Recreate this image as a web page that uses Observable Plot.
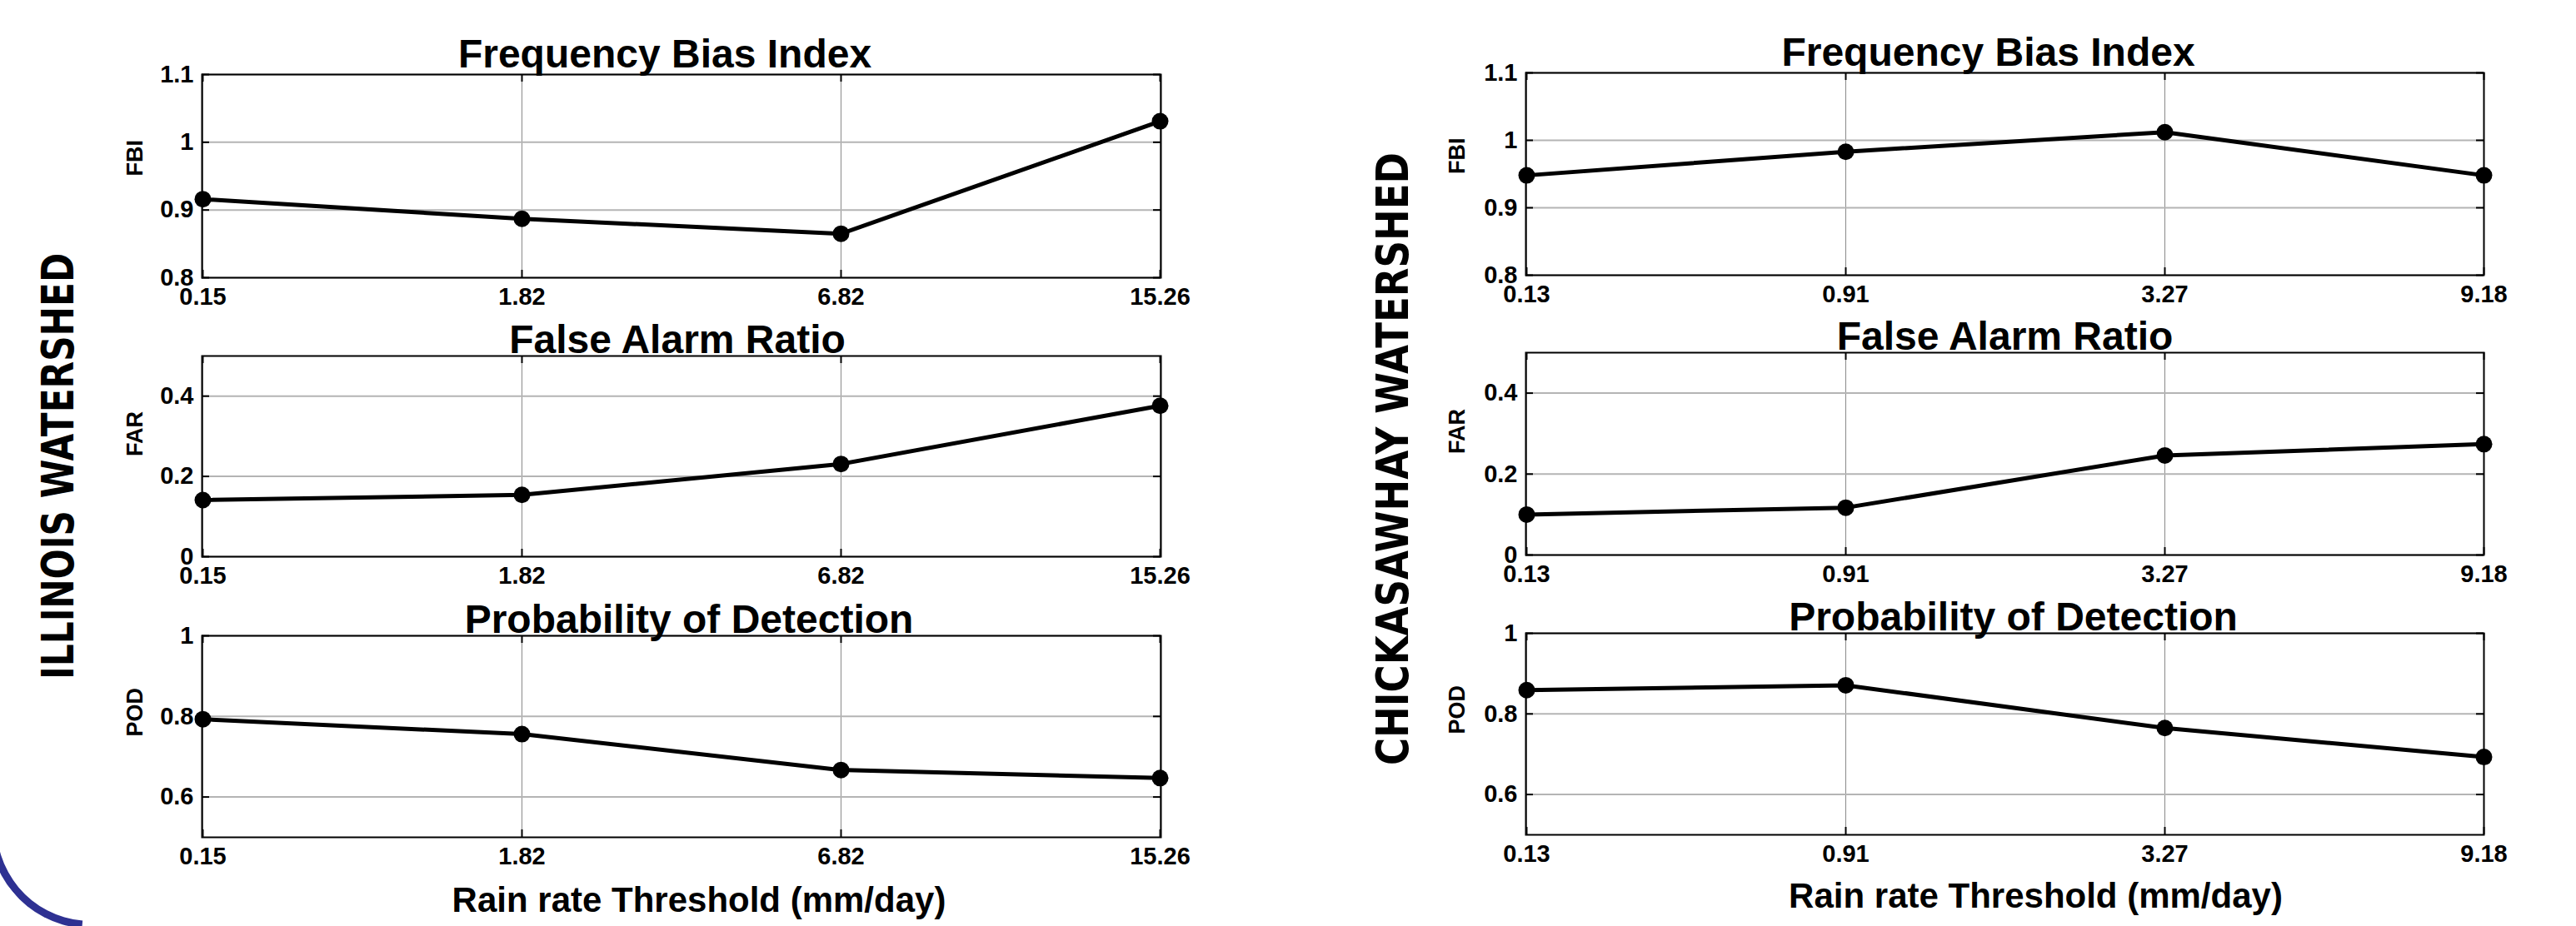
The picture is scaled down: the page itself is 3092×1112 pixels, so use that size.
<!DOCTYPE html>
<html>
<head>
<meta charset="utf-8">
<script src="https://cdn.jsdelivr.net/npm/d3@7"></script>
<script src="https://cdn.jsdelivr.net/npm/@observablehq/plot@0.6"></script>
<style>
  html, body { margin: 0; padding: 0; background: #fff; }
  #root { position: relative; width: 3092px; height: 1112px; overflow: hidden; background: #fff; }
  .panel { position: absolute; }
  #arc {
    position: absolute; box-sizing: border-box;
    left: -13px; top: 871px; width: 244px; height: 244px;
    border: 9px solid transparent; border-left-color: #2e3192;
    border-radius: 50%; transform: rotate(-40deg);
  }
  #side { position: absolute; left: 0; top: 0; pointer-events: none; }
  .panel svg g[aria-label="x-axis tick label"],
  .panel svg g[aria-label="y-axis tick label"] { font-size: 29px; font-weight: bold; }
</style>
</head>
<body>
<div id="root"><div id="arc"></div></div>
<script>
// ---------- data ----------
const illinoisThresholds = ["0.15", "1.82", "6.82", "15.26"];
const chickThresholds = ["0.13", "0.91", "3.27", "9.18"];

const illinoisFBI = [0.916, 0.887, 0.865, 1.031];
const illinoisFAR = [0.141, 0.154, 0.231, 0.376];
const illinoisPOD = [0.793, 0.756, 0.667, 0.647];

const chickFBI = [0.948, 0.983, 1.012, 0.948];
const chickFAR = [0.100, 0.117, 0.246, 0.274];
const chickPOD = [0.859, 0.871, 0.765, 0.693];

const metricTitles = ["Frequency Bias Index", "False Alarm Ratio", "Probability of Detection"];
const metricLabels = ["FBI", "FAR", "POD"];
const fbiDomain = [0.8, 1.1], farDomain = [0, 0.5], podDomain = [0.5, 1];
const fbiTicks = [0.8, 0.9, 1, 1.1];
const farTicks = [0, 0.2, 0.4];
const podTicks = [0.6, 0.8, 1];
const watershedNames = ["ILLINOIS WATERSHED", "CHICKASAWHAY WATERSHED"];
const xAxisTitle = "Rain rate Threshold (mm/day)";

// ---------- layout ----------
const cols = [
  {left: 0, width: 1546, ml: 242, mr: 153, ylabDx: -80, xtDx: 21, xtDy: 89},
  {left: 1546, width: 1546, ml: 285, mr: 111, ylabDx: -82, xtDx: 37, xtDy: 87}
];
const frames = [
  [[89, 333], [427, 668], [763, 1005]],
  [[87, 330], [423, 666], [760, 1002]]
];
const titleDy = [-9, -4, -4];
const titleDx = [[-20, -5, 9], [-20, 0, 10]];

const root = document.getElementById("root");
const FONT = "'Liberation Sans', Arial, Helvetica, sans-serif";

function panel(c, r, xs, vals, domain, ticks) {
  const col = cols[c];
  const [ft, fb] = frames[c][r];
  const mt = 70, mb = r === 2 ? 120 : 60;
  const fh = fb - ft, fw = col.width - col.ml - col.mr;
  const data = xs.map((t, i) => ({t, v: vals[i]}));
  const marks = [
    Plot.ruleX(xs, {stroke: "#8a8a8a", strokeWidth: 1}),
    Plot.ruleY(ticks, {stroke: "#b4b4b4", strokeWidth: 2}),
    Plot.frame({stroke: "black", strokeWidth: 2}),
    Plot.tickY(ticks, {y: d => d, insetRight: fw - 9, stroke: "black", strokeWidth: 2}),
    Plot.tickY(ticks, {y: d => d, insetLeft: fw - 9, stroke: "black", strokeWidth: 2}),
    Plot.tickX(xs, {x: d => d, insetBottom: fh - 9, stroke: "black", strokeWidth: 2}),
    Plot.tickX(xs, {x: d => d, insetTop: fh - 9, stroke: "black", strokeWidth: 2}),
    Plot.line(data, {x: "t", y: "v", stroke: "black", strokeWidth: 5}),
    Plot.dot(data, {x: "t", y: "v", r: 10, fill: "black"}),
    Plot.text([metricTitles[r]], {text: d => d, frameAnchor: "top", dx: titleDx[c][r], dy: titleDy[r], lineAnchor: "bottom", fontSize: 48, fontWeight: "bold"}),
    Plot.text([metricLabels[r]], {text: d => d, frameAnchor: "left", dx: col.ylabDx, rotate: -90, lineAnchor: "middle", fontSize: 27, fontWeight: "bold"})
  ];
  if (r === 2) {
    marks.push(Plot.text([xAxisTitle], {text: d => d, frameAnchor: "bottom", dx: col.xtDx, dy: col.xtDy, lineAnchor: "bottom", fontSize: 42, fontWeight: "bold"}));
  }
  const svg = Plot.plot({
    width: col.width,
    height: mt + fh + mb,
    marginTop: mt, marginBottom: mb, marginLeft: col.ml, marginRight: col.mr,
    style: {fontFamily: FONT, fontSize: "29px", fontWeight: "bold", background: "transparent", overflow: "visible", color: "black"},
    x: {type: "point", domain: xs, padding: 0, tickSize: 0, tickPadding: 12, label: null},
    y: {domain, ticks, tickFormat: d => String(d), tickSize: 0, tickPadding: 10, label: null},
    marks
  });
  const div = document.createElement("div");
  div.className = "panel";
  div.style.left = col.left + "px";
  div.style.top = (ft - mt) + "px";
  div.appendChild(svg);
  root.appendChild(div);
}

panel(0, 0, illinoisThresholds, illinoisFBI, fbiDomain, fbiTicks);
panel(0, 1, illinoisThresholds, illinoisFAR, farDomain, farTicks);
panel(0, 2, illinoisThresholds, illinoisPOD, podDomain, podTicks);
panel(1, 0, chickThresholds, chickFBI, fbiDomain, fbiTicks);
panel(1, 1, chickThresholds, chickFAR, farDomain, farTicks);
panel(1, 2, chickThresholds, chickPOD, podDomain, podTicks);

// side watershed labels
const sideSpecs = [
  {cx: 69, cy: 560, len: 512},
  {cx: 1671, cy: 551, len: 736}
];
const side = d3.create("svg").attr("id", "side").attr("width", 3092).attr("height", 1112);
side.selectAll("text").data(watershedNames).join("text")
  .attr("transform", (d, i) => `translate(${sideSpecs[i].cx},${sideSpecs[i].cy}) rotate(-90)`)
  .attr("text-anchor", "middle")
  .attr("dy", "0.36em")
  .attr("font-family", "'DejaVu Sans', sans-serif")
  .attr("font-weight", "bold")
  .attr("font-size", 53)
  .attr("textLength", (d, i) => sideSpecs[i].len)
  .attr("lengthAdjust", "spacingAndGlyphs")
  .text(d => d);
root.appendChild(side.node());
</script>
</body>
</html>
